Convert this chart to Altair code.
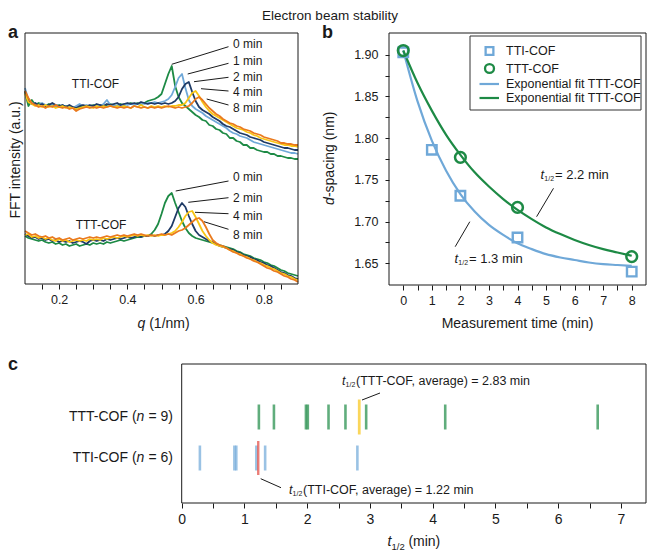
import altair as alt
import pandas as pd

W, H = 639, 542
FONT = "Liberation Sans"
INK = "#1a1a1a"

GREEN = "#1d8a45"
LBLUE = "#6fa8d8"
NAVY = "#1f3b66"
YELLOW = "#f8c515"
ORANGE = "#ea7a1e"
RED = "#e2463d"

# ------------------------------------------------------------------ data
# panel a: FFT intensity profiles (a.u.) versus q (1/nm)
Q = [0.10, 0.11, 0.12, 0.13, 0.14, 0.15, 0.16, 0.17, 0.18, 0.19,
     0.20, 0.21, 0.22, 0.23, 0.24, 0.25, 0.26, 0.27, 0.28, 0.29,
     0.30, 0.31, 0.32, 0.33, 0.34, 0.35, 0.36, 0.37, 0.38, 0.39,
     0.40, 0.41, 0.42, 0.43, 0.44, 0.45, 0.46, 0.47, 0.48, 0.49,
     0.50, 0.51, 0.52, 0.53, 0.54, 0.55, 0.56, 0.57, 0.58, 0.59,
     0.60, 0.61, 0.62, 0.63, 0.64, 0.65, 0.66, 0.67, 0.68, 0.69,
     0.70, 0.71, 0.72, 0.73, 0.74, 0.75, 0.76, 0.77, 0.78, 0.79,
     0.80, 0.81, 0.82, 0.83, 0.84, 0.85, 0.86, 0.87, 0.88, 0.89,
     0.90]

TTI_0 = [192, 178, 184, 179, 181, 180, 178, 180, 179, 178,
         179, 177, 178, 176, 177, 175, 177, 178, 177, 178,
         179, 178, 179, 178, 179, 180, 179, 178, 180, 179,
         180, 181, 180, 181, 180, 181, 183, 184, 185, 187,
         190, 200, 210, 218, 198, 187, 181, 178, 175, 172,
         169, 167, 164, 163, 159, 158, 155, 154, 151, 150,
         146, 146, 143, 142, 139, 139, 136, 136, 134, 133,
         132, 132, 130, 130, 128, 128, 127, 126, 126, 125,
         125]
TTI_1 = [196, 184, 181, 180, 179, 181, 179, 178, 180, 178,
         177, 179, 177, 178, 176, 178, 180, 178, 179, 177,
         178, 179, 178, 180, 184, 179, 178, 179, 178, 180,
         179, 180, 179, 180, 181, 180, 181, 181, 182, 181,
         182, 183, 185, 189, 197, 206, 210, 196, 184, 178,
         175, 173, 171, 168, 166, 164, 162, 160, 158, 156,
         153, 151, 150, 148, 147, 146, 144, 142, 141, 140,
         139, 138, 137, 136, 135, 134, 133, 132, 131, 131,
         130]
TTI_2 = [193, 183, 180, 181, 179, 180, 178, 179, 181, 179,
         178, 179, 177, 179, 177, 176, 178, 179, 178, 179,
         178, 180, 179, 178, 180, 179, 180, 181, 179, 180,
         181, 180, 181, 180, 182, 181, 180, 181, 180, 181,
         180, 181, 180, 181, 183, 187, 195, 200, 202, 192,
         183, 177, 174, 172, 170, 167, 165, 163, 160, 158,
         157, 155, 153, 151, 150, 149, 147, 146, 145, 144,
         142, 141, 140, 139, 138, 137, 136, 136, 135, 134,
         134]
TTI_4 = [190, 182, 180, 178, 179, 177, 179, 177, 178, 176,
         177, 178, 176, 177, 176, 175, 176, 177, 178, 177,
         176, 178, 177, 178, 177, 178, 177, 178, 177, 178,
         177, 176, 178, 177, 179, 177, 176, 178, 177, 178,
         177, 178, 177, 178, 178, 179, 179, 181, 186, 191,
         193, 188, 182, 177, 173, 170, 168, 166, 164, 162,
         160, 158, 156, 155, 154, 152, 151, 149, 148, 146,
         145, 144, 143, 142, 141, 140, 139, 139, 138, 138,
         137]
TTI_8 = [193, 186, 181, 179, 177, 178, 176, 178, 177, 179,
         177, 176, 177, 175, 176, 173, 175, 176, 177, 176,
         177, 176, 177, 176, 177, 178, 177, 176, 177, 176,
         177, 176, 178, 177, 176, 177, 176, 177, 176, 177,
         176, 177, 178, 177, 176, 177, 176, 177, 178, 181,
         185, 187, 184, 180, 176, 173, 170, 168, 165, 163,
         161, 160, 158, 157, 155, 154, 153, 151, 150, 149,
         147, 146, 145, 144, 143, 141, 141, 140, 140, 139,
         139]

TTT_0 = [48, 46, 45, 44, 43, 44, 42, 41, 42, 40,
         41, 39, 40, 38, 39, 40, 38, 39, 40, 39,
         41, 40, 41, 40, 42, 41, 42, 43, 44, 43,
         44, 45, 46, 47, 47, 48, 48, 50, 54, 60,
         70, 81, 88, 91, 81, 72, 63, 56, 51, 48,
         46, 45, 44, 43, 42, 41, 40, 39, 38, 37,
         36, 35, 33, 32, 30, 29, 28, 26, 25, 24,
         22, 21, 19, 18, 16, 14, 13, 11, 10, 9,
         8]
TTT_2 = [50, 48, 46, 47, 45, 46, 44, 45, 43, 44,
         42, 43, 42, 43, 41, 42, 43, 42, 40, 43,
         44, 43, 44, 43, 45, 44, 45, 46, 45, 46,
         47, 46, 47, 48, 47, 48, 48, 49, 48, 49,
         49, 50, 53, 58, 67, 76, 81, 77, 68, 60,
         53, 49, 47, 45, 43, 42, 40, 38, 37, 36,
         35, 34, 32, 31, 29, 28, 27, 25, 24, 22,
         21, 19, 18, 16, 14, 12, 11, 9, 8, 6,
         5]
TTT_4 = [49, 50, 47, 48, 46, 47, 45, 46, 44, 43,
         45, 43, 44, 42, 43, 44, 43, 44, 43, 45,
         44, 45, 44, 46, 45, 46, 47, 46, 47, 48,
         47, 48, 49, 48, 49, 48, 49, 48, 49, 48,
         49, 49, 50, 51, 53, 57, 62, 68, 72, 73,
         67, 60, 53, 48, 44, 41, 39, 38, 37, 36,
         34, 33, 31, 30, 28, 27, 25, 24, 22, 21,
         19, 18, 16, 15, 13, 11, 10, 8, 7, 5,
         4]
TTT_8 = [53, 51, 49, 50, 48, 47, 48, 46, 47, 45,
         46, 44, 45, 46, 44, 45, 46, 45, 46, 47,
         46, 47, 46, 47, 48, 47, 48, 49, 48, 49,
         48, 49, 50, 49, 50, 49, 48, 49, 48, 49,
         50, 49, 50, 49, 51, 53, 54, 56, 59, 62,
         65, 66, 63, 57, 50, 44, 41, 39, 38, 36,
         34, 32, 31, 29, 28, 26, 25, 23, 22, 20,
         18, 16, 15, 13, 12, 10, 8, 7, 5, 4,
         2]

TIME_LABELS = ["0 min", "1 min", "2 min", "4 min", "8 min"]
TTI_TIMES = ["0 min", "1 min", "2 min", "4 min", "8 min"]
TTT_TIMES = ["0 min", "2 min", "4 min", "8 min"]

# panel b: d-spacing (nm) versus measurement time (min)
T_TTI = [0, 1, 2, 4, 8]
D_TTI = [1.903, 1.786, 1.731, 1.681, 1.640]
T_TTT = [0, 2, 4, 8]
D_TTT = [1.905, 1.777, 1.717, 1.658]
T_FIT = [0, 0.5, 1, 1.5, 2, 2.5, 3, 3.5, 4, 4.5, 5, 5.5, 6, 6.5, 7, 7.5, 8]
FIT_TTI = [1.905, 1.844, 1.797, 1.761, 1.733, 1.712, 1.696, 1.684, 1.674,
           1.667, 1.661, 1.657, 1.654, 1.651, 1.649, 1.648, 1.647]
FIT_TTT = [1.905, 1.866, 1.833, 1.804, 1.780, 1.759, 1.742, 1.727, 1.714,
           1.703, 1.693, 1.685, 1.678, 1.672, 1.667, 1.663, 1.659]

# panel c: half-lives (min)
THALF_TTT = [1.23, 1.47, 1.98, 2.01, 2.34, 2.61, 2.94, 4.20, 6.63]
THALF_TTI = [0.29, 0.84, 0.87, 1.19, 1.33, 2.80]
AVG_TTT = [2.83]
AVG_TTI = [1.22]

# tick values
A_TICKS = [0.15, 0.2, 0.25, 0.3, 0.35, 0.4, 0.45, 0.5, 0.55, 0.6, 0.65, 0.7, 0.75, 0.8, 0.85]
B_XTICKS = [0, 0.5, 1, 1.5, 2, 2.5, 3, 3.5, 4, 4.5, 5, 5.5, 6, 6.5, 7, 7.5, 8]
B_YTICKS = [1.65, 1.675, 1.7, 1.725, 1.75, 1.775, 1.8, 1.825, 1.85, 1.875, 1.9]
C_TICKS = [0, 0.5, 1, 1.5, 2, 2.5, 3, 3.5, 4, 4.5, 5, 5.5, 6, 6.5, 7]

# ------------------------------------------------------------------ layout (pixels in the plot area)
A_X0, A_X1, A_Y0, A_Y1 = 17, 290, 25, 276
B_X0, B_X1, B_Y0, B_Y1 = 381, 638, 25, 277
C_X0, C_X1, C_Y0, C_Y1 = 173.7, 638, 356, 495
ROW_TTT_Y, ROW_TTI_Y = 409, 450


def txt(s, x, y, size=12, align="left", baseline="middle", style="normal",
        weight="normal", angle=0, color=INK):
    kw = dict(font=FONT, fontSize=size, align=align, baseline=baseline,
              fontStyle=style, fontWeight=weight, color=color)
    if angle:
        kw["angle"] = angle
    return alt.Chart(pd.DataFrame({"s": [s]})).mark_text(**kw).encode(
        x=alt.value(x), y=alt.value(y), text="s:N")


def axis(orient, offset, values, fmt, expr, size=12.5, pad=4, tick=5):
    return alt.Axis(orient=orient, offset=offset, values=values, format=fmt,
                    labelExpr=expr, labelFont=FONT, labelFontSize=size,
                    labelColor=INK, labelPadding=pad, labelOverlap=False,
                    labelFlush=False, tickSize=tick, tickColor=INK,
                    tickWidth=1, domain=False, grid=False, title=None)


XA = alt.Scale(domain=[0.1, 0.9], range=[A_X0, A_X1], nice=False, zero=False)
YA = alt.Scale(domain=[0, 251], range=[A_Y1, A_Y0], nice=False, zero=False)
XB = alt.Scale(domain=[-0.5, 8.5], range=[B_X0, B_X1], nice=False, zero=False)
YB = alt.Scale(domain=[1.624, 1.926], range=[B_Y1, B_Y0], nice=False, zero=False)
XC = alt.Scale(domain=[0, 7.4], range=[C_X0, C_X1], nice=False, zero=False)

layers = []

# ---------------- panel a
rows = []
for t, vals in zip(TTI_TIMES, [TTI_0, TTI_1, TTI_2, TTI_4, TTI_8]):
    for q, v in zip(Q, vals):
        rows.append({"q": q, "I": v, "time": t, "sample": "TTI-COF"})
for t, vals in zip(TTT_TIMES, [TTT_0, TTT_2, TTT_4, TTT_8]):
    for q, v in zip(Q, vals):
        rows.append({"q": q, "I": v, "time": t, "sample": "TTT-COF"})
df_a = pd.DataFrame(rows)

layers.append(
    alt.Chart(df_a).mark_line(strokeWidth=1.8, strokeJoin="round").encode(
        x=alt.X("q:Q", scale=XA,
                axis=axis("bottom", A_Y1 - H, A_TICKS, ".1f",
                          "round(datum.value*20) % 4 == 0 ? datum.label : ''")),
        y=alt.Y("I:Q", scale=YA, axis=None),
        color=alt.Color("time:N", scale=alt.Scale(domain=TIME_LABELS,
                        range=[GREEN, LBLUE, NAVY, YELLOW, ORANGE]), legend=None),
        detail="sample:N",
    )
)

# ---------------- panel b
df_fit = pd.concat([
    pd.DataFrame({"t": T_FIT, "d": FIT_TTI, "fit": "TTI"}),
    pd.DataFrame({"t": T_FIT, "d": FIT_TTT, "fit": "TTT"}),
])
layers.append(
    alt.Chart(df_fit).mark_line(strokeWidth=2.2, interpolate="monotone").encode(
        x=alt.X("t:Q", scale=XB,
                axis=axis("bottom", B_Y1 - H, B_XTICKS, ".0f",
                          "datum.value % 1 == 0 ? datum.label : ''")),
        y=alt.Y("d:Q", scale=YB,
                axis=axis("left", -B_X0, B_YTICKS, ".2f",
                          "round(datum.value*40) % 2 == 0 ? datum.label : ''",
                          pad=7, tick=4)),
        color=alt.Color("fit:N", scale=alt.Scale(domain=["TTI", "TTT"],
                        range=[LBLUE, GREEN]), legend=None),
    )
)
layers.append(
    alt.Chart(pd.DataFrame({"t": T_TTI, "d": D_TTI})).mark_point(
        shape="square", filled=False, size=90, strokeWidth=2.4, color=LBLUE,
        opacity=1).encode(
        x=alt.X("t:Q", scale=XB, axis=None), y=alt.Y("d:Q", scale=YB, axis=None))
)
layers.append(
    alt.Chart(pd.DataFrame({"t": T_TTT, "d": D_TTT})).mark_point(
        shape="circle", filled=False, size=115, strokeWidth=2.5, color=GREEN,
        opacity=1).encode(
        x=alt.X("t:Q", scale=XB, axis=None), y=alt.Y("d:Q", scale=YB, axis=None))
)

# ---------------- panel c
layers.append(
    alt.Chart(pd.DataFrame({"t": THALF_TTT})).mark_tick(
        orient="vertical", color=GREEN, thickness=2.6, size=25).encode(
        x=alt.X("t:Q", scale=XC,
                axis=axis("bottom", C_Y1 - H, C_TICKS, ".0f",
                          "datum.value % 1 == 0 ? datum.label : ''",
                          size=14, pad=4)),
        y=alt.value(ROW_TTT_Y))
)
layers.append(
    alt.Chart(pd.DataFrame({"t": AVG_TTT})).mark_tick(
        orient="vertical", color=YELLOW, thickness=2.8, size=35).encode(
        x=alt.X("t:Q", scale=XC, axis=None), y=alt.value(ROW_TTT_Y))
)
layers.append(
    alt.Chart(pd.DataFrame({"t": THALF_TTI})).mark_tick(
        orient="vertical", color=LBLUE, thickness=2.6, size=25).encode(
        x=alt.X("t:Q", scale=XC, axis=None), y=alt.value(ROW_TTI_Y))
)
layers.append(
    alt.Chart(pd.DataFrame({"t": AVG_TTI})).mark_tick(
        orient="vertical", color=RED, thickness=2.4, size=34).encode(
        x=alt.X("t:Q", scale=XC, axis=None), y=alt.value(ROW_TTI_Y))
)

# ---------------- frames, leaders
FRAMES = [(A_X0, A_Y0, A_X1, A_Y1), (B_X0, B_Y0, B_X1, B_Y1), (C_X0, C_Y0, C_X1, C_Y1)]
layers.append(
    alt.Chart(pd.DataFrame(FRAMES, columns=["x", "y", "x2", "y2"])).mark_rect(
        fill="transparent", stroke=INK, strokeWidth=1).encode(
        x=alt.X("x:Q", scale=None, axis=None), x2="x2:Q",
        y=alt.Y("y:Q", scale=None, axis=None), y2="y2:Q")
)
LEGEND_BOX = [(462, 28, 633, 102)]
layers.append(
    alt.Chart(pd.DataFrame(LEGEND_BOX, columns=["x", "y", "x2", "y2"])).mark_rect(
        fill="transparent", stroke="#333333", strokeWidth=1).encode(
        x=alt.X("x:Q", scale=None, axis=None), x2="x2:Q",
        y=alt.Y("y:Q", scale=None, axis=None), y2="y2:Q")
)

LEADERS = [
    (163.7, 56.3, 220.5, 38.7), (179.7, 66, 220.5, 55.3), (186, 73.7, 220.5, 69.3),
    (193, 80.7, 220.5, 83), (198.7, 91, 220.5, 97),
    (167.7, 183, 220.5, 173), (180.3, 194.3, 220.5, 189.7), (187, 204.3, 220.5, 205.7),
    (196, 213.7, 220.5, 221.3),
    (528.6, 208.7, 545.5, 180.3), (447.2, 238.7, 461.8, 213.7),
    (354, 392, 372, 385), (252.7, 470.7, 273, 479.7),
]
layers.append(
    alt.Chart(pd.DataFrame(LEADERS, columns=["x", "y", "x2", "y2"])).mark_rule(
        color=INK, strokeWidth=1).encode(
        x=alt.X("x:Q", scale=None, axis=None), x2="x2:Q",
        y=alt.Y("y:Q", scale=None, axis=None), y2="y2:Q")
)

# legend (panel b)
layers.append(alt.Chart(pd.DataFrame({"a": [0]})).mark_point(
    shape="square", filled=False, size=60, strokeWidth=2.3, color=LBLUE, opacity=1
).encode(x=alt.value(481.5), y=alt.value(43)))
layers.append(alt.Chart(pd.DataFrame({"a": [0]})).mark_point(
    shape="circle", filled=False, size=80, strokeWidth=2.3, color=GREEN, opacity=1
).encode(x=alt.value(481.5), y=alt.value(60.5)))
layers.append(alt.Chart(pd.DataFrame({"a": [0]})).mark_rule(
    color=LBLUE, strokeWidth=2.2).encode(
    x=alt.value(471.5), x2=alt.value(491), y=alt.value(76), y2=alt.value(76)))
layers.append(alt.Chart(pd.DataFrame({"a": [0]})).mark_rule(
    color=GREEN, strokeWidth=2.2).encode(
    x=alt.value(471.5), x2=alt.value(491), y=alt.value(90), y2=alt.value(90)))
layers += [
    txt("TTI-COF", 498, 43, size=12.5),
    txt("TTT-COF", 498, 60.5, size=12.5),
    txt("Exponential fit TTT-COF", 498, 76, size=12.5),
    txt("Exponential fit TTT-COF", 498, 90, size=12.5),
]

# ---------------- texts
layers += [
    txt("Electron beam stability", 322, 7.5, size=13.5, align="center"),
    txt("a", 0, 30, size=18, weight="bold", baseline="alphabetic"),
    txt("b", 314, 30, size=18, weight="bold", baseline="alphabetic"),
    txt("c", 0, 362, size=18, weight="bold", baseline="alphabetic"),
    # panel a
    txt("FFT intensity (a.u.)", 7.5, 152, size=14, align="center", angle=270),
    txt("q", 129.5, 316, size=14, style="italic"),
    txt("(1/nm)", 141.2, 316, size=14),
    txt("TTI-COF", 87.5, 76.3, align="center"),
    txt("TTT-COF", 93, 217, align="center"),
    txt("0 min", 225, 36.3), txt("1 min", 225, 52.7), txt("2 min", 225, 68.7),
    txt("4 min", 225, 83.7), txt("8 min", 225, 100.3),
    txt("0 min", 225, 168.7), txt("2 min", 225, 189.7), txt("4 min", 225, 208),
    txt("8 min", 225, 227),
    # panel b
    txt("d", 322, 196.9, size=14, style="italic", angle=270),
    txt("-spacing (nm)", 322, 189.1, size=14, angle=270),
    txt("Measurement time (min)", 509.5, 316, size=14, align="center"),
    txt("t", 532.5, 167, size=13, style="italic"),
    txt("1/2", 536.3, 171, size=7),
    txt("= 2.2 min", 547, 167, size=13),
    txt("t", 446.5, 251.3, size=13, style="italic"),
    txt("1/2", 450.3, 255.3, size=7),
    txt("= 1.3 min", 461, 251.3, size=13),
    # panel c
    txt("TTT-COF (", 128.6, ROW_TTT_Y, size=14, align="right"),
    txt("n", 128.6, ROW_TTT_Y, size=14, style="italic"),
    txt("= 9)", 165, ROW_TTT_Y, size=14, align="right"),
    txt("TTI-COF (", 128.6, ROW_TTI_Y, size=14, align="right"),
    txt("n", 128.6, ROW_TTI_Y, size=14, style="italic"),
    txt("= 6)", 165, ROW_TTI_Y, size=14, align="right"),
    txt("t", 334, 373, size=12.5, style="italic"),
    txt("1/2", 337.6, 377, size=7),
    txt("(TTT-COF, average) = 2.83 min", 348, 373, size=12.5),
    txt("t", 281, 482, size=12.5, style="italic"),
    txt("1/2", 284.6, 486, size=7),
    txt("(TTI-COF, average) = 1.22 min", 295, 482, size=12.5),
    txt("t", 379.5, 534, size=14, style="italic"),
    txt("1/2", 383.5, 538.5, size=9.5),
    txt("(min)", 400.4, 534, size=14),
]

chart = alt.layer(*layers).resolve_scale(
    x="independent", y="independent", color="independent"
).properties(
    width=W, height=H, autosize=alt.AutoSizeParams(type="none"), padding=0
).configure_view(strokeWidth=0)

chart.save("out.html", embed_options={"renderer": "svg", "actions": False})
